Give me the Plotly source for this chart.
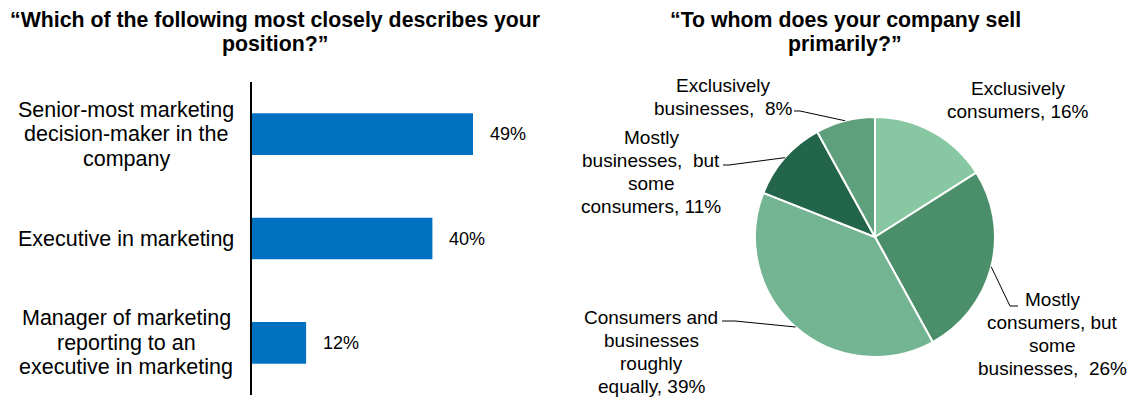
import math
import plotly.graph_objects as go

W, H = 1128, 397
FONT = "Liberation Sans, Arial, sans-serif"

# ---- left panel: respondent position ----
positions = [
    "Senior-most marketing decision-maker in the company",
    "Executive in marketing",
    "Manager of marketing reporting to an executive in marketing",
]
position_label_lines = [
    ["Senior-most marketing", "decision-maker in the", "company"],
    ["Executive in marketing"],
    ["Manager of marketing", "reporting to an", "executive in marketing"],
]
position_share = [49, 40, 12]

# ---- right panel: primary customers ----
segments = [
    "Exclusively consumers",
    "Mostly consumers, but some businesses",
    "Consumers and businesses roughly equally",
    "Mostly businesses, but some consumers",
    "Exclusively businesses",
]
segment_label_lines = [
    ["Exclusively", "consumers, {v}%"],
    ["Mostly", "consumers, but", "some", "businesses,\u00a0 {v}%"],
    ["Consumers and", "businesses", "roughly", "equally, {v}%"],
    ["Mostly", "businesses,\u00a0 but", "some", "consumers, {v}%"],
    ["Exclusively", "businesses,\u00a0 {v}%"],
]
segment_share = [16, 26, 39, 11, 8]
segment_colors = ["#87C8A3", "#4A8F6A", "#73B592", "#22654A", "#5EA07B"]

BAR_BLUE = "#0070C0"


def px(x):
    return x / W


def py(y):
    return 1 - y / H


annotations = []
shapes = []


def text_block(lines, cx, cy, size, spacing, bold=False):
    n = len(lines)
    for i, line in enumerate(lines):
        y = cy + (i - (n - 1) / 2) * spacing
        annotations.append(dict(
            text=f"<b>{line}</b>" if bold else line,
            x=px(cx), y=py(y), xref="paper", yref="paper",
            xanchor="center", yanchor="middle", showarrow=False,
            font=dict(family=FONT, size=size, color="#000000"),
        ))


# titles
text_block(["\u201cWhich of the following most closely describes your", "position?\u201d"],
           275, 32, 21.3, 24, bold=True)
text_block(["\u201cTo whom does your company sell", "primarily?\u201d"],
           845, 32, 21.3, 24, bold=True)

fig = go.Figure()

# bars
fig.add_trace(go.Bar(
    x=position_share, y=positions, orientation="h",
    marker=dict(color=BAR_BLUE, line=dict(width=0)),
    width=0.4, xaxis="x", yaxis="y", hoverinfo="x+y", showlegend=False,
))

# category labels, centred to the left of the axis
for cat, lines in zip(positions, position_label_lines):
    n = len(lines)
    for i, line in enumerate(lines):
        annotations.append(dict(
            text=line, x=px(126), y=cat, xref="paper", yref="y",
            xanchor="center", yanchor="middle", showarrow=False,
            yshift=-(i - (n - 1) / 2) * 24.5,
            font=dict(family=FONT, size=21.5, color="#000000"),
        ))

# value labels at bar ends
for cat, v in zip(positions, position_share):
    annotations.append(dict(
        text=f"{v}%", x=v, y=cat, xref="x", yref="y",
        xanchor="left", yanchor="middle", showarrow=False, xshift=15,
        font=dict(family=FONT, size=18, color="#000000"),
    ))

# pie
PIE_CX, PIE_CY, PIE_R = 875, 237, 120
fig.add_trace(go.Pie(
    values=segment_share, labels=segments, sort=False,
    direction="clockwise", rotation=0,
    marker=dict(colors=segment_colors, line=dict(color="#FFFFFF", width=2)),
    textinfo="none", hoverinfo="label+percent", showlegend=False,
    domain=dict(x=[px(PIE_CX - PIE_R), px(PIE_CX + PIE_R)],
                y=[py(PIE_CY + PIE_R), py(PIE_CY - PIE_R)]),
))

# pie labels: centre of text block and leader line anchor (start, elbow)
label_layout = [
    dict(c=(1018, 100), lead=None),
    dict(c=(1052, 334), lead=((1018, 306), (1010, 306))),
    dict(c=(651, 352), lead=((722, 321), (735, 321))),
    dict(c=(651, 172), lead=((723, 165), (729, 165))),
    dict(c=(723, 97), lead=((794, 111), (800, 111))),
]

total = sum(segment_share)
cum = 0
for v, lines, lay in zip(segment_share, segment_label_lines, label_layout):
    mid = (cum + v / 2) / total
    cum += v
    theta = 2 * math.pi * mid
    ex = PIE_CX + PIE_R * math.sin(theta)
    ey = PIE_CY - PIE_R * math.cos(theta)
    text_block([ln.format(v=v) for ln in lines], lay["c"][0], lay["c"][1], 19, 23)
    if lay["lead"]:
        (sx, sy), (bx, by) = lay["lead"]
        shapes.append(dict(
            type="path", xref="paper", yref="paper",
            path=f"M {px(sx)},{py(sy)} L {px(bx)},{py(by)} L {px(ex)},{py(ey)}",
            line=dict(color="#000000", width=1),
        ))

bar_px_per_pct = 4.51
x_left, x_right = 252, 564
fig.update_layout(
    width=W, height=H,
    margin=dict(l=0, r=0, t=0, b=0),
    paper_bgcolor="#FFFFFF", plot_bgcolor="#FFFFFF",
    xaxis=dict(domain=[px(x_left), px(x_right)],
               range=[0, (x_right - x_left) / bar_px_per_pct],
               visible=False, fixedrange=True),
    yaxis=dict(domain=[py(395), py(82)], categoryorder="array",
               categoryarray=positions, autorange="reversed",
               showline=True, linecolor="#000000", linewidth=2,
               showticklabels=False, ticks="", showgrid=False,
               zeroline=False, fixedrange=True),
    annotations=annotations,
    shapes=shapes,
    font=dict(family=FONT),
)

fig.write_html("out.html")
